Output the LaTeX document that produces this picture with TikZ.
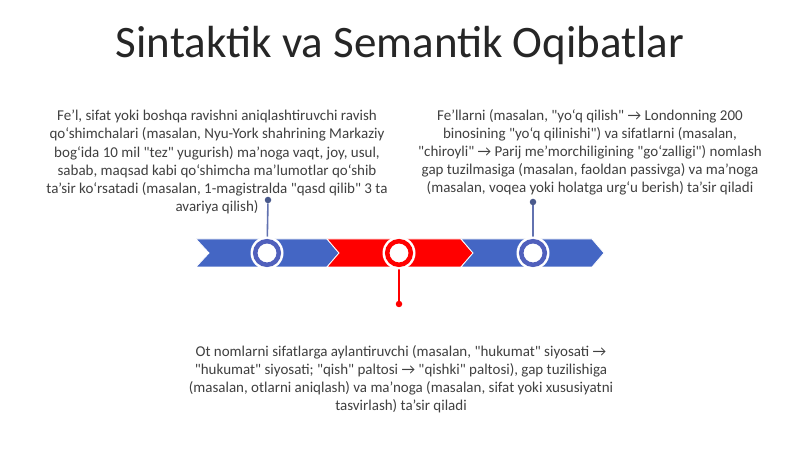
\documentclass[tikz,border=0pt]{standalone}
\usepackage{fontspec}
\setmainfont{Carlito}[Ligatures=TeXOff]
\usetikzlibrary{calc}
\definecolor{bandblue}{HTML}{4466C4}
\definecolor{ringblue}{HTML}{5060BC}
\definecolor{bandred}{HTML}{FF0000}
\definecolor{stemblue}{HTML}{6272B0}
\definecolor{dotblue}{HTML}{4A5A8C}
\definecolor{txt}{HTML}{404040}
\definecolor{ttl}{HTML}{262626}
\begin{document}
\begin{tikzpicture}[x=1pt,y=1pt,
  seg/.style={draw=white,line width=0.8pt},
  ring/.style={fill=white,line width=4.5pt},
  stem/.style={line width=1.6pt},
  desc/.style={align=center,inner sep=0pt,text=txt,font=\fontsize{15}{18.2}\selectfont},
  dotmark/.style={circle,inner sep=0pt,minimum size=6.5pt}]
\useasboundingbox (0,0) rectangle (800,449);
\fill[white] (0,0) rectangle (800,449);
% title
\node[text=ttl,font=\fontsize{45}{54}\selectfont,inner sep=0pt] (title) at (400,403) {Sintaktik va Semantik Oqibatlar};
% band segments
\path[seg,fill=bandblue] (196,210) -- (327,210) -- (339,196) -- (327,182) -- (196,182) -- (209,196) -- cycle;
\path[seg,fill=bandred] (327,210) -- (461,210) -- (473,196) -- (461,182) -- (327,182) -- (339,196) -- cycle;
\path[seg,fill=bandblue] (461,210) -- (592,210) -- (604,196) -- (592,182) -- (461,182) -- (473,196) -- cycle;
% circles
\coordinate (c1) at (267,196);
\coordinate (c2) at (399,196);
\coordinate (c3) at (533,196);
\node[dotmark,fill=dotblue] (d1) at (268,249) {};
\node[dotmark,fill=dotblue] (d3) at (533,247) {};
\node[dotmark,fill=bandred] (d2) at (399,145) {};
\draw[stem,stemblue] (c1) -- (d1);
\draw[stem,stemblue] (c3) -- (d3);
\draw[stem,bandred] (c2) -- (d2);
\foreach \c/\col in {c1/ringblue,c2/bandred,c3/ringblue}{
  \fill[white] (\c) circle (16.5);
  \draw[ring,draw=\col] (\c) circle (11.8);
}
% texts
\node[desc,anchor=north] (t1) at (217,339) {Fe’l, sifat yoki boshqa ravishni aniqlashtiruvchi ravish\\qo‘shimchalari (masalan, Nyu-York shahrining Markaziy\\bog‘ida 10 mil "tez" yugurish) ma’noga vaqt, joy, usul,\\sabab, maqsad kabi qo‘shimcha ma’lumotlar qo‘shib\\ta’sir ko‘rsatadi (masalan, 1-magistralda "qasd qilib" 3 ta\\avariya qilish)};
\node[desc,anchor=north] (t3) at (590,340) {Fe’llarni (masalan, "yo‘q qilish" → Londonning 200\\binosining "yo‘q qilinishi") va sifatlarni (masalan,\\"chiroyli" → Parij me’morchiligining "go‘zalligi") nomlash\\gap tuzilmasiga (masalan, faoldan passivga) va ma’noga\\(masalan, voqea yoki holatga urg‘u berish) ta’sir qiladi};
\node[desc,anchor=north] (t2) at (401,104) {Ot nomlarni sifatlarga aylantiruvchi (masalan, "hukumat" siyosati →\\"hukumat" siyosati; "qish" paltosi → "qishki" paltosi), gap tuzilishiga\\(masalan, otlarni aniqlash) va ma’noga (masalan, sifat yoki xususiyatni\\tasvirlash) ta’sir qiladi};
\end{tikzpicture}
\end{document}
